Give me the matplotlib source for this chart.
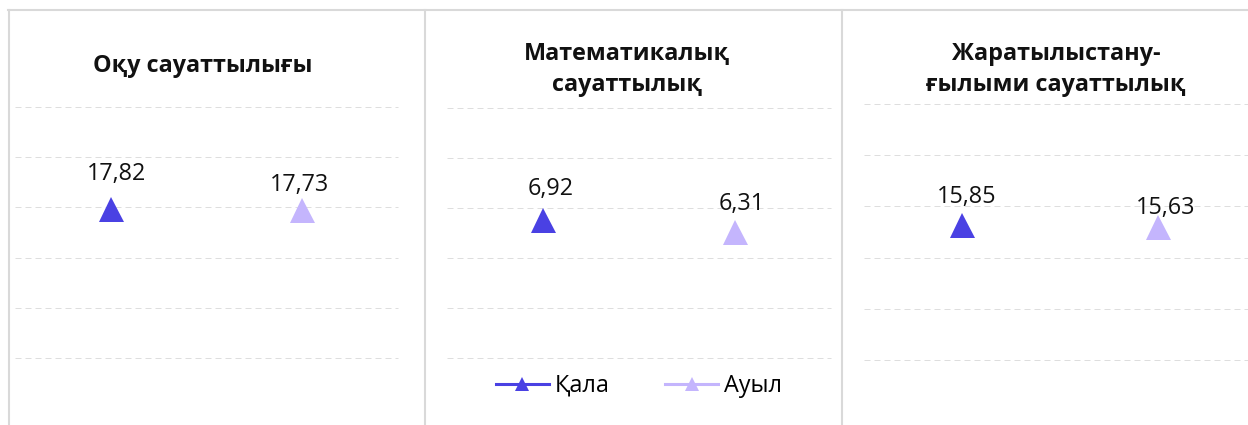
import matplotlib
matplotlib.use("Agg")
import matplotlib.pyplot as plt
from matplotlib.lines import Line2D

plt.rcParams['font.family'] = ['Open Sans', 'DejaVu Sans']

# data
panels = ["Оқу сауаттылығы", "Математикалық\nсауаттылық", "Жаратылыстану-\nғылыми сауаттылық"]
series = ["Қала", "Ауыл"]
kala = [17.82, 6.92, 15.85]
auyl = [17.73, 6.31, 15.63]
y_max = [30, 12.5, 30]
y_step = [6, 2.5, 6]

colors = ["#4a41e3", "#c4b5fd"]

W, H = 1248, 425
fig = plt.figure(figsize=(W / 100, H / 100), dpi=100)


def px_axes(x0, y0, x1, y1):
    return fig.add_axes([x0 / W, 1 - y1 / H, (x1 - x0) / W, (y1 - y0) / H])


# axes boxes in pixels (left, top, right, bottom)
boxes = [(15, 107, 398, 358), (447, 108, 831, 358), (864, 104, 1256, 360)]
# label offsets (px) relative to marker, per panel / series
lab_off = [[(6, 29), (-3, 19)], [(8, 25), (7, 22)], [(5, 22), (8, 13)]]
# title centre x and baseline of the last line (px)
title_pos = [(203, 72.5), (627, 90.7), (1056, 90.7)]

for i, box in enumerate(boxes):
    ax = px_axes(*box)
    vals = [kala[i], auyl[i]]
    for j in range(2):
        ax.plot([j], [vals[j]], linestyle="none", marker="^", markersize=18,
                color=colors[j], markeredgewidth=0, zorder=3)
        dx, dy = lab_off[i][j]
        ax.annotate(f"{vals[j]:.2f}".replace(".", ","), (j, vals[j]),
                    xytext=(dx, dy), textcoords="offset pixels",
                    ha="center", va="baseline", fontsize=16.8, color="#111111")
    ax.set_xlim(-0.5, 1.5)
    ax.set_ylim(0, y_max[i])
    ticks = [k * y_step[i] for k in range(6)]
    ax.set_yticks(ticks)
    ax.grid(axis="y", color="#dedede", linewidth=0.72, linestyle=(0, (6, 4)))
    for gl in ax.get_ygridlines():
        gl.set_clip_on(False)
    ax.set_axisbelow(True)
    ax.tick_params(left=False, bottom=False, labelleft=False, labelbottom=False)
    for s in ax.spines.values():
        s.set_visible(False)
    tx, ty = title_pos[i]
    fig.text(tx / W, 1 - ty / H, panels[i], ha="center", va="baseline",
             fontsize=16.8, fontweight="bold", linespacing=1.37, color="#111111")
    if i == 1:
        handles = [Line2D([], [], color=c, linewidth=2.2, marker="^", markersize=10,
                          markeredgewidth=0) for c in colors]
        fig.legend(handles, series, loc="center", bbox_to_anchor=(639 / W, 1 - 386 / H),
                   ncol=2, frameon=False, fontsize=16.8, handlelength=2.25,
                   handletextpad=0.25, columnspacing=2.4, borderpad=0)

# panel borders
border = "#d9d9d9"
fig.add_artist(Line2D([8 / W, 1], [1 - 10 / H] * 2, color=border, linewidth=1.5))
for x in [9, 425, 842]:
    fig.add_artist(Line2D([x / W] * 2, [1 - 10 / H, 0], color=border, linewidth=1.5))

fig.savefig("out.png", dpi=100)
